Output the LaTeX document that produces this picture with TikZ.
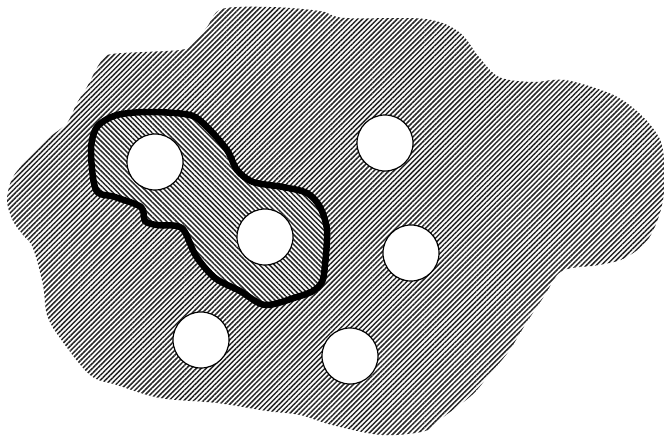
\documentclass[tikz,border=0pt]{standalone}
\usepackage{tikz}
\usetikzlibrary{patterns.meta}

\tikzset{
  gebiet/.style={pattern={Lines[angle=45,distance=3.5pt,line width=1.5pt]},
    pattern color=black!85},
  teilgebiet/.style={pattern={Lines[angle=135,distance=3.5pt,line width=1.5pt]},
    pattern color=black!85},
  rand/.style={draw=black, line width=6.5pt, line join=round},
  loch/.style={circle, draw, fill=white, line width=1.2pt,
    minimum size=56pt, inner sep=0pt}
}
\newcommand{\teilpfad}{plot[smooth cycle, tension=0.5] coordinates {
    (97,127) (117,115) (150,112) (190,115) (207,127) (227,150) (237,170)
    (253,182) (283,187) (307,193) (320,207) (327,230) (325,265) (322,282)
    (313,291) (297,297) (265,305) (240,291) (215,278) (196,256) (185,232)
    (177,226) (157,225) (145,221) (141,207) (115,197) (96,190) (91,150)}}

\begin{document}
\begin{tikzpicture}[x=1pt,y=-1pt]
  \useasboundingbox (0,0) rectangle (664,436);

  % Gebiet
  \fill[gebiet] plot[smooth cycle, tension=0.55] coordinates {
    (7,200) (13,177) (30,157) (50,137) (67,123) (77,103) (87,87) (100,63)
    (112,54) (180,50) (193,43) (207,27) (222,9) (270,7) (320,11) (345,18)
    (425,19) (459,32) (479,57) (499,77) (532,82) (565,80) (609,93) (632,107)
    (652,127) (663,150) (663,200) (649,238) (625,258) (599,265) (562,271)
    (545,295) (525,325) (509,351) (489,375) (472,395) (442,418) (425,431)
    (382,435) (332,425) (300,415) (267,411) (217,403) (160,398) (117,385)
    (90,375) (60,338) (47,315) (43,285) (33,248) (23,235) (13,221)};

  % Teilgebiet
  \fill[white] \teilpfad;
  \fill[teilgebiet] \teilpfad;
  \draw[rand] \teilpfad;

  % Kreise
  \node[loch] (k1) at (155,162) {};
  \node[loch] (k2) at (265,237) {};
  \node[loch] (k3) at (385,143) {};
  \node[loch] (k4) at (411,253) {};
  \node[loch] (k5) at (201,340) {};
  \node[loch] (k6) at (350,356) {};
\end{tikzpicture}
\end{document}
